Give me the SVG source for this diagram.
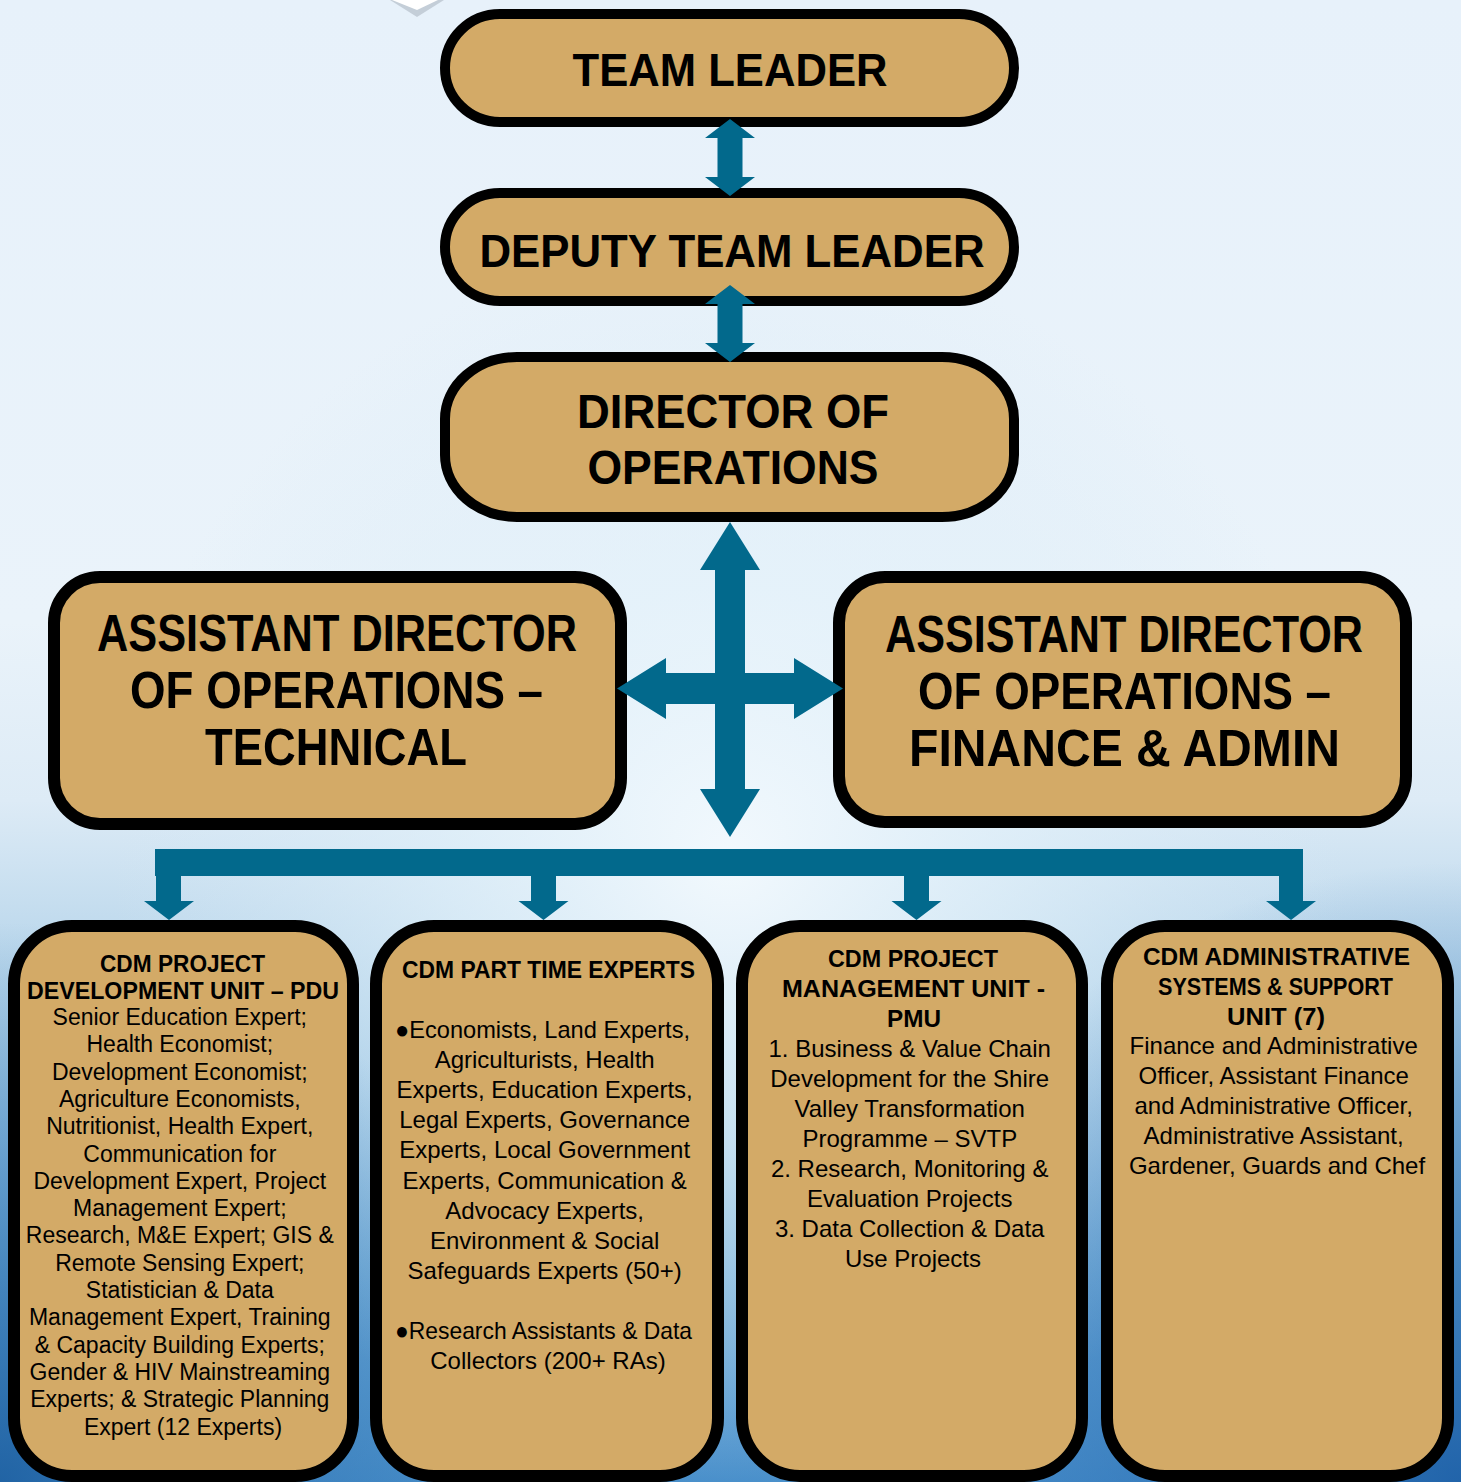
<svg xmlns="http://www.w3.org/2000/svg" width="1461" height="1482" viewBox="0 0 1461 1482">
<defs>
<linearGradient id="bg" x1="0" y1="0" x2="0" y2="1">
<stop offset="0" stop-color="#E7F1FA"/>
<stop offset="0.42" stop-color="#EAF3FA"/>
<stop offset="0.54" stop-color="#DDEBF6"/>
<stop offset="0.68" stop-color="#AED0E8"/>
<stop offset="0.85" stop-color="#72ADD9"/>
<stop offset="1" stop-color="#4A90CB"/>
</linearGradient>
<radialGradient id="glow" cx="730" cy="860" r="620" gradientUnits="userSpaceOnUse">
<stop offset="0" stop-color="#F4FAFE" stop-opacity="0.95"/>
<stop offset="0.45" stop-color="#E2F1FA" stop-opacity="0.65"/>
<stop offset="1" stop-color="#D6E9F6" stop-opacity="0"/>
</radialGradient>
<radialGradient id="bl" cx="0" cy="1482" r="560" gradientUnits="userSpaceOnUse">
<stop offset="0" stop-color="#1A5C9E" stop-opacity="0.85"/>
<stop offset="0.6" stop-color="#2A6EAE" stop-opacity="0.35"/>
<stop offset="1" stop-color="#2A6EAE" stop-opacity="0"/>
</radialGradient>
<radialGradient id="br" cx="1461" cy="1482" r="620" gradientUnits="userSpaceOnUse">
<stop offset="0" stop-color="#1A5CA4" stop-opacity="0.85"/>
<stop offset="0.6" stop-color="#2A6EB4" stop-opacity="0.4"/>
<stop offset="1" stop-color="#2A6EB4" stop-opacity="0"/>
</radialGradient>
</defs>
<style>
.box{fill:#D3AA67;stroke:#000;}
.top{stroke-width:10;}
.mid{stroke-width:12;}
.low{stroke-width:12;}
.h{font-family:"Liberation Sans",Arial,sans-serif;font-weight:bold;fill:#000;text-anchor:middle;}
.b{font-family:"Liberation Sans",Arial,sans-serif;fill:#000;text-anchor:middle;}
.arr{fill:#02698C;}
</style>
<rect x="0" y="0" width="1461" height="1482" fill="url(#bg)"/>
<rect x="0" y="0" width="1461" height="1482" fill="url(#glow)"/>
<rect x="0" y="0" width="1461" height="1482" fill="url(#bl)"/>
<rect x="0" y="0" width="1461" height="1482" fill="url(#br)"/>
<polygon points="390,0 417,17 444,0" fill="#BCC6CF" opacity="0.8"/>
<polygon points="392,0 417,10 438,0" fill="#FFFFFF"/>

<g id="team-leader">
<rect class="box top" x="445" y="14" width="569" height="108" rx="55" ry="54"/>
<text class="h" x="730" y="86" font-size="47" textLength="315" lengthAdjust="spacingAndGlyphs">TEAM LEADER</text>
</g>
<g id="deputy-team-leader">
<rect class="box top" x="445" y="193" width="569" height="108" rx="55" ry="54"/>
<text class="h" x="732" y="267" font-size="47" textLength="505" lengthAdjust="spacingAndGlyphs">DEPUTY TEAM LEADER</text>
</g>
<g id="director-of-operations">
<rect class="box top" x="445" y="357" width="569" height="160" rx="72" ry="62"/>
<text class="h" x="733" y="428" font-size="48" textLength="312" lengthAdjust="spacingAndGlyphs">DIRECTOR OF</text>
<text class="h" x="733" y="484" font-size="48" textLength="291" lengthAdjust="spacingAndGlyphs">OPERATIONS</text>
</g>

<g id="asst-director-technical">
<rect class="box mid" x="54" y="577" width="567" height="247" rx="46"/>
<text class="h" x="337" y="651" font-size="52" textLength="480" lengthAdjust="spacingAndGlyphs">ASSISTANT DIRECTOR</text>
<text class="h" x="336.5" y="708" font-size="52" textLength="413" lengthAdjust="spacingAndGlyphs">OF OPERATIONS –</text>
<text class="h" x="336" y="765" font-size="52" textLength="262" lengthAdjust="spacingAndGlyphs">TECHNICAL</text>
</g>
<g id="asst-director-finance-admin">
<rect class="box mid" x="839" y="577" width="567" height="245" rx="46"/>
<text class="h" x="1124" y="652" font-size="52" textLength="478" lengthAdjust="spacingAndGlyphs">ASSISTANT DIRECTOR</text>
<text class="h" x="1124.5" y="709" font-size="52" textLength="413" lengthAdjust="spacingAndGlyphs">OF OPERATIONS –</text>
<text class="h" x="1124.5" y="766" font-size="52" textLength="431" lengthAdjust="spacingAndGlyphs">FINANCE &amp; ADMIN</text>
</g>

<g id="pdu">
<rect class="box low" x="14" y="926" width="339" height="550" rx="58"/>
<text class="h" x="182.5" y="972" font-size="24" textLength="165" lengthAdjust="spacingAndGlyphs">CDM PROJECT</text>
<text class="h" x="183" y="999" font-size="24" textLength="312" lengthAdjust="spacingAndGlyphs">DEVELOPMENT UNIT – PDU</text>
<text class="b" font-size="23" x="183">
<tspan x="183" y="1025">Senior Education Expert;</tspan>
<tspan x="183" y="1052.3">Health Economist;</tspan>
<tspan x="183" y="1079.6">Development Economist;</tspan>
<tspan x="183" y="1106.9">Agriculture Economists,</tspan>
<tspan x="183" y="1134.2">Nutritionist, Health Expert,</tspan>
<tspan x="183" y="1161.5">Communication for</tspan>
<tspan x="183" y="1188.8">Development Expert, Project</tspan>
<tspan x="183" y="1216.1">Management Expert;</tspan>
<tspan x="183" y="1243.4">Research, M&amp;E Expert; GIS &amp;</tspan>
<tspan x="183" y="1270.7">Remote Sensing Expert;</tspan>
<tspan x="183" y="1298">Statistician &amp; Data</tspan>
<tspan x="183" y="1325.3">Management Expert, Training</tspan>
<tspan x="183" y="1352.6">&amp; Capacity Building Experts;</tspan>
<tspan x="183" y="1379.9">Gender &amp; HIV Mainstreaming</tspan>
<tspan x="183" y="1407.2">Experts; &amp; Strategic Planning</tspan>
<tspan x="183" y="1434.5">Expert (12 Experts)</tspan>
</text>
</g>

<g id="part-time-experts">
<rect class="box low" x="376" y="926" width="342" height="550" rx="58"/>
<text class="h" x="548.5" y="978" font-size="24" textLength="293" lengthAdjust="spacingAndGlyphs">CDM PART TIME EXPERTS</text>
<text class="b" font-size="24" x="542.5" y="1038" textLength="295" lengthAdjust="spacingAndGlyphs">●Economists, Land Experts,</text>
<text class="b" font-size="24">
<tspan x="548" y="1068">Agriculturists, Health</tspan>
<tspan x="548" y="1098">Experts, Education Experts,</tspan>
<tspan x="548" y="1128">Legal Experts, Governance</tspan>
<tspan x="548" y="1158">Experts, Local Government</tspan>
<tspan x="548" y="1189">Experts, Communication &amp;</tspan>
<tspan x="548" y="1219">Advocacy Experts,</tspan>
<tspan x="548" y="1249">Environment &amp; Social</tspan>
<tspan x="548" y="1279">Safeguards Experts (50+)</tspan>
<tspan x="548" y="1369">Collectors (200+ RAs)</tspan>
</text>
<text class="b" font-size="24" x="543.5" y="1339" textLength="297" lengthAdjust="spacingAndGlyphs">●Research Assistants &amp; Data</text>
</g>

<g id="pmu">
<rect class="box low" x="742" y="926" width="340" height="550" rx="58"/>
<text class="h" x="913" y="967" font-size="24" textLength="170" lengthAdjust="spacingAndGlyphs">CDM PROJECT</text>
<text class="h" x="913.5" y="997" font-size="24" textLength="263" lengthAdjust="spacingAndGlyphs">MANAGEMENT UNIT -</text>
<text class="h" x="914" y="1027" font-size="24" textLength="54" lengthAdjust="spacingAndGlyphs">PMU</text>
<text class="b" font-size="24">
<tspan x="913" y="1057">1. Business &amp; Value Chain</tspan>
<tspan x="913" y="1087">Development for the Shire</tspan>
<tspan x="913" y="1117">Valley Transformation</tspan>
<tspan x="913" y="1147">Programme – SVTP</tspan>
<tspan x="913" y="1177">2. Research, Monitoring &amp;</tspan>
<tspan x="913" y="1207">Evaluation Projects</tspan>
<tspan x="913" y="1237">3. Data Collection &amp; Data</tspan>
<tspan x="913" y="1267">Use Projects</tspan>
</text>
</g>

<g id="admin-support">
<rect class="box low" x="1107" y="926" width="341" height="550" rx="58"/>
<text class="h" x="1276.5" y="965" font-size="24" textLength="267" lengthAdjust="spacingAndGlyphs">CDM ADMINISTRATIVE</text>
<text class="h" x="1275.5" y="995" font-size="24" textLength="235" lengthAdjust="spacingAndGlyphs">SYSTEMS &amp; SUPPORT</text>
<text class="h" x="1276" y="1025" font-size="24" textLength="98" lengthAdjust="spacingAndGlyphs">UNIT (7)</text>
<text class="b" font-size="24">
<tspan x="1277" y="1054">Finance and Administrative</tspan>
<tspan x="1277" y="1084">Officer, Assistant Finance</tspan>
<tspan x="1277" y="1114">and Administrative Officer,</tspan>
<tspan x="1277" y="1144">Administrative Assistant,</tspan>
<tspan x="1277" y="1174">Gardener, Guards and Chef</tspan>
</text>
</g>

<g id="connectors">
<polygon class="arr" points="730,119 755,138 742.5,138 742.5,177 755,177 730,196 705,177 717.5,177 717.5,138 705,138"/>
<polygon class="arr" points="730,285 755,304 742.5,304 742.5,343 755,343 730,362 705,343 717.5,343 717.5,304 705,304"/>
<polygon class="arr" points="730,522 760,570 745,570 745,673 794,673 794,658 843,688.5 794,719 794,704 745,704 745,789 760,789 730,837 700,789 715,789 715,704 666,704 666,719 617,688.5 666,658 666,673 715,673 715,570 700,570"/>
<rect class="arr" x="155" y="849" width="1148" height="27"/>
<polygon class="arr" points="156,875 181,875 181,901 194,901 169,920 144,901 156,901"/>
<polygon class="arr" points="531,875 556,875 556,901 568.5,901 543.5,920 518.5,901 531,901"/>
<polygon class="arr" points="904,875 929,875 929,901 941.5,901 916.5,920 891.5,901 904,901"/>
<polygon class="arr" points="1279,875 1303,875 1303,901 1316,901 1291,920 1266,901 1279,901"/>
</g>
</svg>
